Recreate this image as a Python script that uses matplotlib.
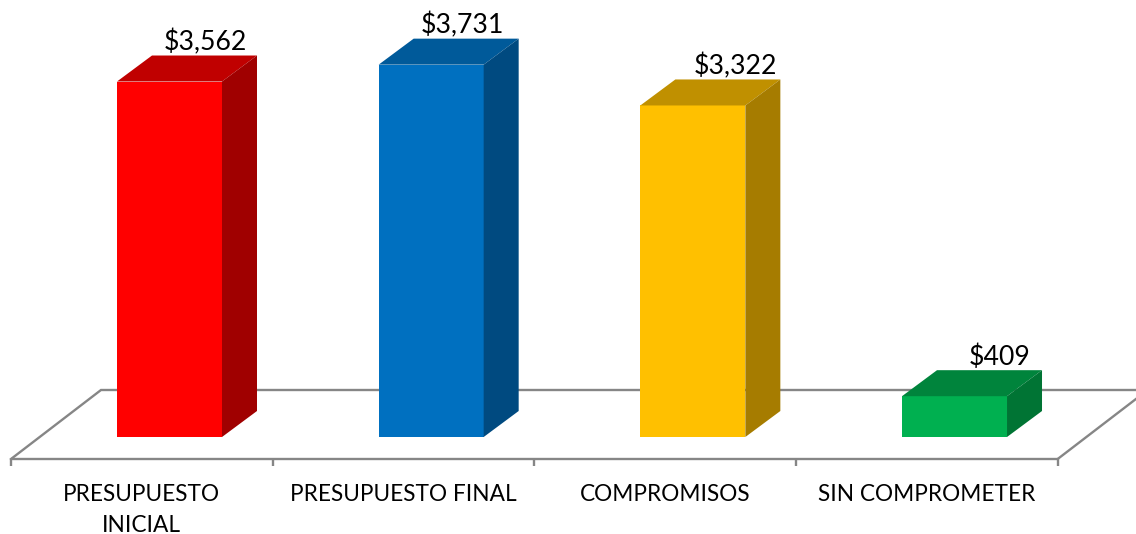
import matplotlib
matplotlib.use('Agg')
import matplotlib.pyplot as plt
from matplotlib.patches import Polygon

plt.rcParams['font.family'] = ['Lato', 'DejaVu Sans']

categorias = ['PRESUPUESTO\nINICIAL', 'PRESUPUESTO FINAL', 'COMPROMISOS', 'SIN COMPROMETER']
valores = [3562, 3731, 3322, 409]
etiquetas = ['$3,562', '$3,731', '$3,322', '$409']

frente = ['#FF0000', '#0070C0', '#FFC000', '#00B050']
arriba = ['#C00000', '#005A9A', '#C09000', '#00843C']
lado = ['#A00000', '#004A80', '#A67C00', '#007434']

# how far each value label sits right of the bar centre, in pixels
desp = [35.5, 31, 42.5, 45.5]

W, H = 1136, 534
px_cat = 261.67      # pixels per category
px_val = 0.0998      # pixels per dollar
x0_px, y0_px = 169.5, 437

ancho = 105 / px_cat
fondo_x = 35 / px_cat
fondo_y = 26 / px_val
gris = '#868686'

fig = plt.figure(figsize=(W / 100, H / 100), dpi=100)
ax = fig.add_axes([0, 0, 1, 1])
ax.set_xlim(-x0_px / px_cat, (W - x0_px) / px_cat)
ax.set_ylim(-(H - y0_px) / px_val, y0_px / px_val)
ax.axis('off')

# floor of the 3d chart
izq = (11 - x0_px) / px_cat
der = izq + len(categorias)
piso_f = -22 / px_val
piso_a = 47 / px_val
piso_dx = 90 / px_cat
ax.plot([izq, der], [piso_f, piso_f], color=gris, lw=1.7, zorder=1, solid_capstyle='butt')
ax.plot([izq, izq + piso_dx, der + piso_dx, der], [piso_f, piso_a, piso_a, piso_f],
        color=gris, lw=1.7, zorder=1, solid_joinstyle='miter')

for i in range(len(categorias) + 1):
    ax.plot([izq + i, izq + i], [piso_f, piso_f - 6.5 / px_val], color=gris, lw=1.7, zorder=1,
            solid_capstyle='butt')

for i, nombre in enumerate(categorias):
    ax.annotate(nombre, (izq + i + 0.5, piso_f), xytext=(0, -25), textcoords='offset pixels',
                ha='center', va='top', fontsize=16.3, color='#000000', linespacing=1.6)

ax.bar(range(len(valores)), valores, width=ancho, color=frente, zorder=3, linewidth=0)

for i, v in enumerate(valores):
    a = i - ancho / 2
    b = i + ancho / 2
    ax.add_patch(Polygon([(a, v), (b, v), (b + fondo_x, v + fondo_y), (a + fondo_x, v + fondo_y)],
                         closed=True, facecolor=arriba[i], linewidth=0, zorder=3))
    ax.add_patch(Polygon([(b, 0), (b + fondo_x, fondo_y), (b + fondo_x, v + fondo_y), (b, v)],
                         closed=True, facecolor=lado[i], linewidth=0, zorder=3))
    ax.annotate(etiquetas[i], (i, v + fondo_y), xytext=(desp[i], 0), textcoords='offset pixels',
                ha='center', va='bottom', fontsize=19.2, color='#000000', zorder=4)

fig.savefig('out.png', dpi=100)
